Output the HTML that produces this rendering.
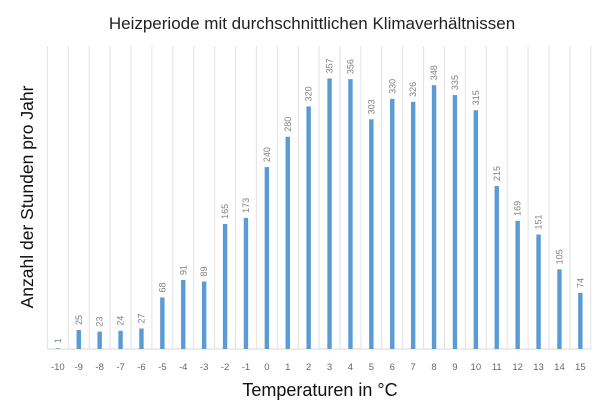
<!DOCTYPE html>
<html><head><meta charset="utf-8"><style>
html,body{margin:0;padding:0;background:#fff;}
svg{display:block;font-family:"Liberation Sans",sans-serif;}
</style></head><body>
<svg width="600" height="408" viewBox="0 0 600 408" xmlns="http://www.w3.org/2000/svg">
<rect width="600" height="408" fill="#fff"/>
<text x="312" y="29" font-size="17" text-anchor="middle" fill="#222">Heizperiode mit durchschnittlichen Klimaverhältnissen</text>
<text transform="translate(33,197) rotate(-90)" font-size="17.5" text-anchor="middle" fill="#111">Anzahl der Stunden pro Jahr</text>
<text x="320" y="396" font-size="18" text-anchor="middle" fill="#111">Temperaturen in °C</text>
<g id="g"></g>
</svg>
<script>
var d=[1,25,23,24,27,68,91,89,165,173,240,280,320,357,356,303,330,326,348,335,315,215,169,151,105,74];
var L=47.4,W=20.9,B=349,k=0.758,s='';
for(var i=0;i<=26;i++){var x=L+i*W;s+='<line x1="'+x+'" y1="46" x2="'+x+'" y2="'+B+'" stroke="#e2e2e2" stroke-width="1"/>';}
s+='<line x1="'+L+'" y1="'+B+'" x2="'+(L+26*W)+'" y2="'+B+'" stroke="#d9d9d9" stroke-width="1"/>';
for(var i=0;i<26;i++){var c=L+(i+0.5)*W,h=d[i]*k,t=B-h;
s+='<rect x="'+(c-2.2)+'" y="'+t+'" width="4.4" height="'+h+'" fill="#5b9bd5"/>';
s+='<text transform="translate('+(c+3)+','+(t-5)+') rotate(-90)" font-size="9" fill="#808080">'+d[i]+'</text>';
s+='<text x="'+c+'" y="370" font-size="9.5" text-anchor="middle" fill="#666">'+(i-10)+'</text>';}
document.getElementById('g').innerHTML=s;
</script>
</body></html>
